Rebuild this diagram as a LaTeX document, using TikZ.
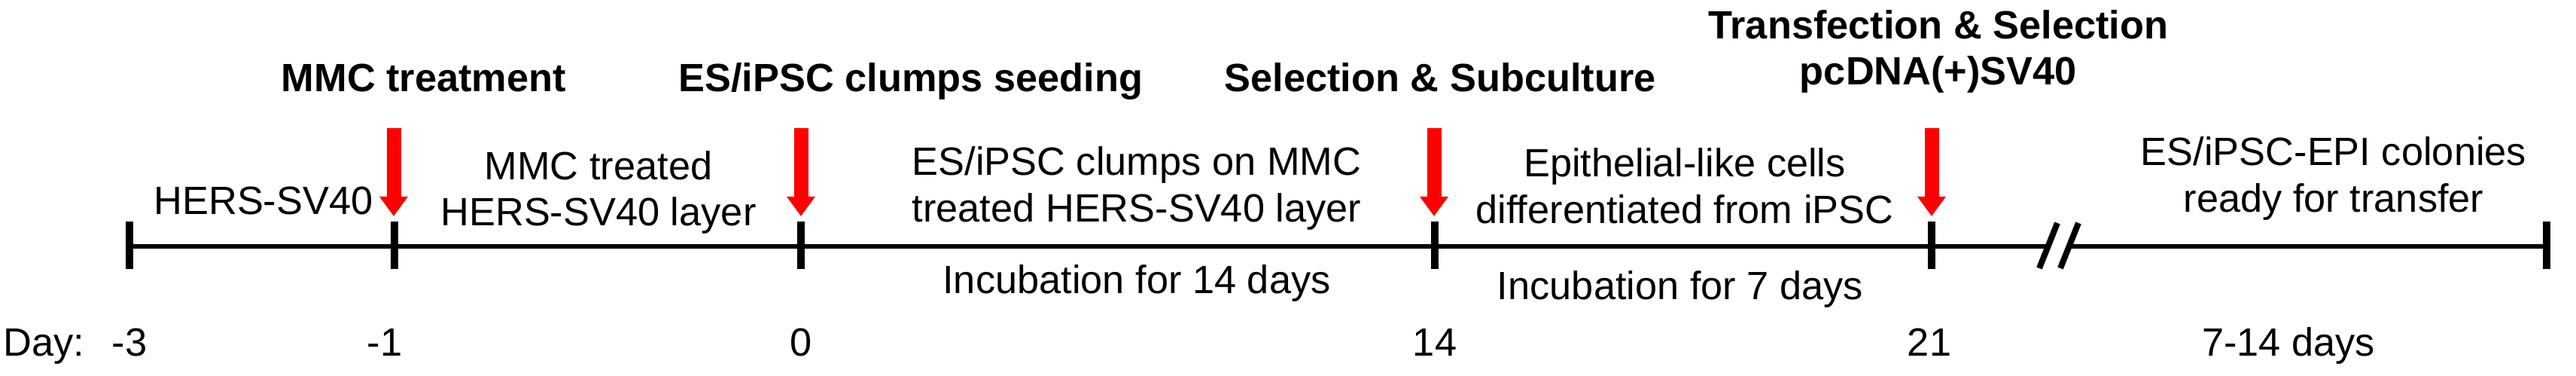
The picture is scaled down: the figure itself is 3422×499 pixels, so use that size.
\documentclass[tikz,border=0pt]{standalone}
\usepackage{fontspec}
\setmainfont[Ligatures=NoCommon]{Liberation Sans}
\usepackage{xcolor}
\usepackage{tikz}
\usetikzlibrary{positioning,arrows.meta,calc}
\definecolor{mRed}{HTML}{FF0000}
\tikzset{
  lbl/.style={anchor=base,inner sep=0pt},
  hdr/.style={lbl,font=\bfseries},
  tickline/.style={line width=1mm},
  axisline/.style={line width=0.6mm},
  breakline/.style={line width=0.8mm},
  stepArrow/.style={mRed,line width=1.9mm,-{Triangle[width=3.6mm,length=2.6mm]}}
}

\begin{document}
\begin{tikzpicture}[x=0.1mm,y=0.1mm]
\fontsize{14.9pt}{17.6pt}\selectfont
\useasboundingbox (0,0) rectangle (3422,499);

\foreach \x/\n in {172/a,524/b,1064/c,1906/d,2566/e,3383/f} {
  \coordinate (tick\n) at (\x,172);
  \draw[tickline] (\x,142) -- (\x,205);
}

\coordinate (brkL) at (2721,172);
\coordinate (brkR) at (2749,172);
\draw[axisline] (ticka) -- (brkL);
\draw[axisline] (brkR) -- (tickf);
\draw[breakline] (2709,143) -- (2733,203);
\draw[breakline] (2737,143) -- (2761,203);

\foreach \x/\n in {523/b,1064/c,1905/d,2566/e} {
  \coordinate (top\n) at (\x,329);
  \coordinate (tip\n) at (\x,212);
  \draw[stepArrow] (top\n) -- (tip\n);
}

\node[hdr] (hMMC) at (563,377) {MMC treatment};
\node[hdr] (hSeed) at (1210,377) {ES/iPSC clumps seeding};
\node[hdr] (hSel) at (1913,377) {Selection \& Subculture};
\node[hdr] (hTrans) at (2575,447) {Transfection \& Selection};
\node[hdr] (hVec) at (2575,386) {pcDNA(+)SV40};

\node[lbl] (sHers) at (350,214) {HERS-SV40};
\node[lbl] (sMMC1) at (795,260) {MMC treated};
\node[lbl] (sMMC2) at (795,199) {HERS-SV40 layer};
\node[lbl] (sES1) at (1510,266) {ES/iPSC clumps on MMC};
\node[lbl] (sES2) at (1510,204) {treated HERS-SV40 layer};
\node[lbl] (sEpi1) at (2238,264) {Epithelial-like cells};
\node[lbl] (sEpi2) at (2238,202) {differentiated from iPSC};
\node[lbl] (sCol1) at (3100,279) {ES/iPSC-EPI colonies};
\node[lbl] (sCol2) at (3100,217) {ready for transfer};
\node[lbl] (sInc14) at (1510,109) {Incubation for 14 days};
\node[lbl] (sInc7) at (2232,101) {Incubation for 7 days};

\node[lbl,anchor=base west] (dayLbl) at (4,26) {Day:};
\foreach \x/\d/\n in {172/-3/a,511/-1/b,1064/0/c,1906/14/d,2563/21/e,3040/7-14 days/f} {
  \node[lbl] (day\n) at (\x,26) {\d};
}
\end{tikzpicture}
\end{document}
